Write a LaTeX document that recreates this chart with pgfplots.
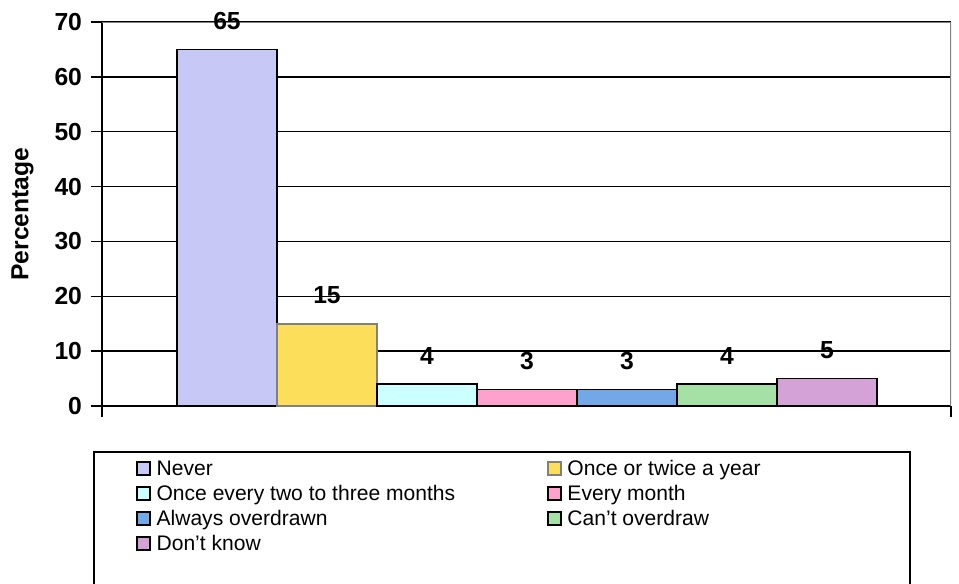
\documentclass[border=0pt]{standalone}
\usepackage{pgfplots}
\pgfplotsset{compat=1.18}
\usepackage{fontspec}
\setmainfont{Liberation Sans}
\definecolor{cNever}{RGB}{200,200,246}
\definecolor{cYear}{RGB}{252,222,90}
\definecolor{cTwo}{RGB}{204,255,255}
\definecolor{cMonth}{RGB}{255,160,205}
\definecolor{cAlways}{RGB}{115,168,232}
\definecolor{cCant}{RGB}{165,225,165}
\definecolor{cDont}{RGB}{212,162,215}
\newcommand{\LA}[1]{\makebox[296.65pt][l]{\hspace{4pt}#1}}
\newcommand{\LB}[1]{\makebox[250pt][l]{\hspace{4pt}#1}}
\begin{document}
\begin{tikzpicture}
\useasboundingbox (0,0) rectangle (719.25pt,-438pt);
\begin{axis}[
  at={(76.5pt,-304.5pt)}, anchor=south west,
  scale only axis, width=636.75pt, height=288pt,
  xmin=0, xmax=849, ymin=0, ymax=70,
  axis x line*=bottom, axis y line*=left,
  axis line style={black, line width=1.1pt, -},
  xtick={0,849}, xticklabels={},
  ytick={0,10,...,70},
  tick align=outside, major tick length=8pt,
  tick style={black, line width=1.1pt},
  ymajorgrids, grid style={black, line width=1.1pt},
  /pgf/number format/assume math mode=true,
  yticklabel style={font=\fontsize{18.5}{22}\selectfont\bfseries, xshift=-3.5pt},
  ylabel={Percentage},
  ylabel style={font=\fontsize{18.5}{22}\selectfont\bfseries, at={(axis description cs:-0.0936,0.5)}, anchor=center},
  nodes near coords,
  every node near coord/.append style={font=\fontsize{18.5}{22}\selectfont\bfseries, anchor=south, inner sep=0pt, yshift=14.25pt},
  legend columns=2,
  legend cell align=left,
  legend style={draw=none, fill=none, inner sep=0pt, outer sep=0pt,
    column sep=0pt, row sep=5.75pt,
    nodes={inner sep=0pt, font=\fontsize{15.8}{19}\selectfont},
    at={(rel axis cs:0.03997,-0.141)}, anchor=north west},
  legend image code/.code={\draw[#1, line width=1.5pt] (0pt,-5pt) rectangle (10pt,5pt);},
]
\addplot[ybar, bar shift=0pt, bar width=100, fill=cNever, draw=black, line width=1.1pt] coordinates {(125,65)};
\addlegendentry{\LA{Never}}
\addplot[ybar, bar shift=0pt, bar width=100, fill=cYear, draw=gray, line width=1.8pt] coordinates {(225,15)};
\addlegendentry{\LB{Once or twice a year}}
\addplot[ybar, bar shift=0pt, bar width=100, fill=cTwo, draw=black, line width=1.1pt] coordinates {(325,4)};
\addlegendentry{\LA{Once every two to three months}}
\addplot[ybar, bar shift=0pt, bar width=100, fill=cMonth, draw=black, line width=1.1pt] coordinates {(425,3)};
\addlegendentry{\LB{Every month}}
\addplot[ybar, bar shift=0pt, bar width=100, fill=cAlways, draw=black, line width=1.1pt] coordinates {(525,3)};
\addlegendentry{\LA{Always overdrawn}}
\addplot[ybar, bar shift=0pt, bar width=100, fill=cCant, draw=black, line width=1.1pt] coordinates {(625,4)};
\addlegendentry{\LB{Can't overdraw}}
\addplot[ybar, bar shift=0pt, bar width=100, fill=cDont, draw=black, line width=1.1pt] coordinates {(725,5)};
\addlegendentry{\LA{Don't know}}
\draw[gray, line width=1.1pt] (rel axis cs:0,1) -- (rel axis cs:1,1) -- (rel axis cs:1,0);
\end{axis}
\draw[line width=1.5pt] (70.5pt,-339pt) rectangle (682.5pt,-445pt);
\end{tikzpicture}
\end{document}
